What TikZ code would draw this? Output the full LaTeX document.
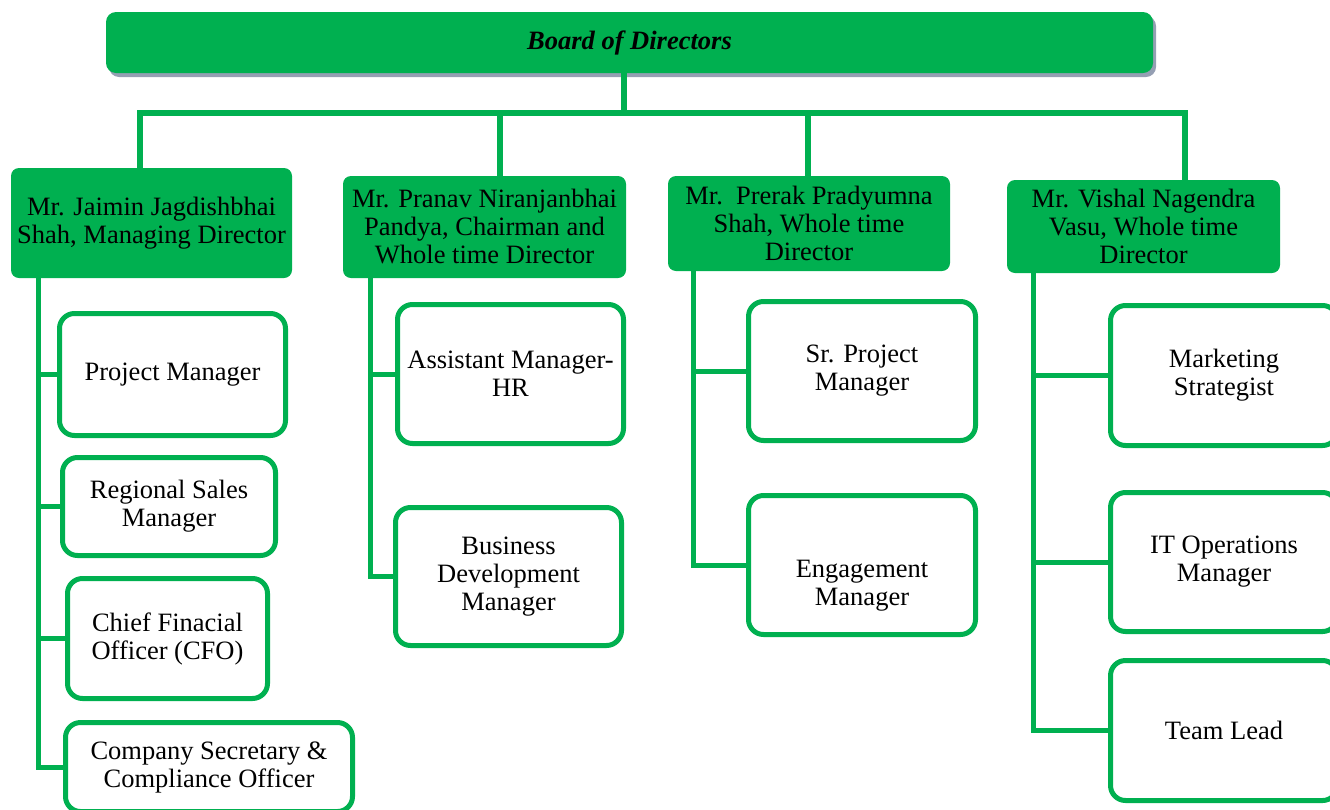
\documentclass[tikz,border=0pt]{standalone}
\usepackage{fontspec}
\setmainfont{Liberation Serif}
\usepackage{tikz}
\usetikzlibrary{
    calc,
    shadows
}
\definecolor{orggreen}{HTML}{00B050}
\definecolor{shadowgray}{HTML}{959FB3}
\tikzset{
    every node/.style={font=\fontsize{26.5}{28}\selectfont, align=center, inner sep=2pt},
    boardbox/.style={fill=orggreen, rounded corners=10pt,
        drop shadow={shadow xshift=3pt, shadow yshift=-4pt, fill=shadowgray, opacity=1}},
    dirbox/.style={fill=orggreen, rounded corners=8pt},
    rolebox/.style={draw=orggreen, line width=5pt, fill=white, rounded corners=15pt},
    mainline/.style={draw=orggreen, line width=6.5pt},
    subline/.style={draw=orggreen, line width=5pt},
}

\begin{document}
\begin{tikzpicture}[x=1pt, y=-1pt]
    \useasboundingbox (0,0) rectangle (1330,809);
    \clip (0,0) rectangle (1330,809);
    % board
    \node[boardbox, minimum width=1047pt, minimum height=61pt] (board) at (629.5,42.5)
        {\bfseries\itshape Board of Directors};
    % directors
    \node[dirbox, minimum width=281pt, minimum height=110pt] (d1) at (151.5,223)
        {Mr. Jaimin Jagdishbhai\\Shah, Managing Director};
    \node[dirbox, minimum width=283pt, minimum height=102pt] (d2) at (484.5,227)
        {Mr. Pranav Niranjanbhai\\Pandya, Chairman and\\Whole time Director};
    \node[dirbox, minimum width=282pt, minimum height=95pt] (d3) at (809,223.5)
        {Mr.~~Prerak Pradyumna\\Shah, Whole time\\Director};
    \node[dirbox, minimum width=273pt, minimum height=93pt] (d4) at (1143.5,226.5)
        {Mr. Vishal Nagendra\\Vasu, Whole time\\Director};
    % roles
    \node[rolebox, minimum width=226pt, minimum height=122pt] (c11) at (172.5,374.5) {Project Manager};
    \node[rolebox, minimum width=213pt, minimum height=98pt] (c12) at (169,506.5) {Regional Sales\\Manager};
    \node[rolebox, minimum width=200pt, minimum height=120pt] (c13) at (167.5,638.5) {Chief Finacial\\Officer (CFO)};
    \node[rolebox, minimum width=287pt, minimum height=89pt] (c14) at (209,767) {Company Secretary \&\\Compliance Officer};
    \node[rolebox, minimum width=226pt, minimum height=139pt] (c21) at (510.5,374) {Assistant Manager-\\HR};
    \node[rolebox, minimum width=226pt, minimum height=138pt] (c22) at (508.5,576.5) {Business\\Development\\Manager};
    \node[rolebox, minimum width=227pt, minimum height=139pt] (c31) at (862,371) {Sr. Project\\Manager};
    \node[rolebox, minimum width=227pt, minimum height=139pt,
        label={[yshift=-21pt]center:{Engagement\\Manager}}] (c32) at (862,565) {};
    \node[rolebox, minimum width=227pt, minimum height=140pt] (c41) at (1224,375.5) {Marketing\\Strategist};
    \node[rolebox, minimum width=227pt, minimum height=139pt] (c42) at (1224,562) {IT Operations\\Manager};
    \node[rolebox, minimum width=227pt, minimum height=140pt] (c43) at (1224,730.5) {Team Lead};
    % bus to the directors
    \coordinate (bus0) at (624,113);
    \coordinate (bus1) at (140,113);
    \coordinate (bus2) at (500,113);
    \coordinate (bus3) at (808,113);
    \coordinate (bus4) at (1185,113);
    \draw[mainline] (board.south -| bus0) -- (bus0);
    \draw[mainline] (bus1 |- d1.north) -- (bus1) -- (bus4) -- (bus4 |- d4.north);
    \foreach \i in {2,3}
        \draw[mainline] (bus\i) -- (bus\i |- d\i.north);
    % director to roles
    \coordinate (t1) at (38,278);
    \coordinate (t2) at (370,278);
    \coordinate (t3) at (693,271);
    \coordinate (t4) at (1033,273);
    \draw[subline] (t1) |- (c14.west);
    \foreach \c in {c11,c12,c13}
        \draw[subline] (t1 |- \c.west) -- (\c.west);
    \draw[subline] (t2) |- (c22.west);
    \draw[subline] (t2 |- c21.west) -- (c21.west);
    \draw[subline] (t3) |- (c32.west);
    \draw[subline] (t3 |- c31.west) -- (c31.west);
    \draw[subline] (t4) |- (c43.west);
    \foreach \c in {c41,c42}
        \draw[subline] (t4 |- \c.west) -- (\c.west);
\end{tikzpicture}
\end{document}
